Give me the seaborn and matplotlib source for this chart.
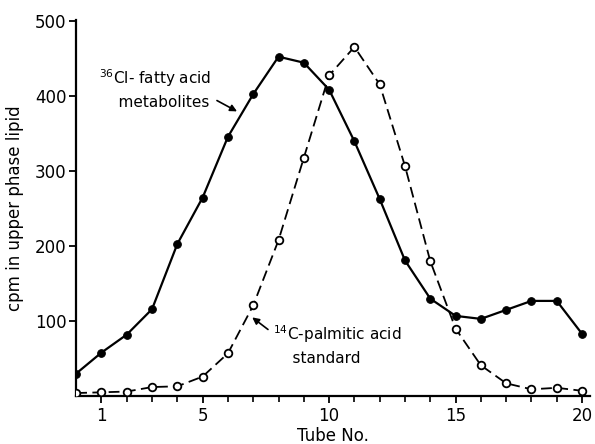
import numpy as np
import pandas as pd
import matplotlib
matplotlib.use('Agg')
import matplotlib.pyplot as plt
import seaborn as sns

# tube numbers and counts
tubes = list(range(0, 21))
cl36_metabolites = [30, 58, 82, 116, 203, 265, 346, 403, 453, 445, 409,
                    340, 263, 181, 130, 107, 103, 115, 127, 127, 83]
c14_palmitic = [4, 5, 6, 12, 13, 26, 57, 121, 208, 318, 428,
                466, 416, 307, 180, 90, 41, 17, 9, 11, 7]

x_major = [1, 5, 10, 15, 20]
y_major = [100, 200, 300, 400, 500]

df = pd.DataFrame({'tube': tubes, 'cl36': cl36_metabolites, 'c14': c14_palmitic})

sns.set_style('ticks')
plt.rcParams['font.family'] = ['DejaVu Sans']
plt.rcParams['text.color'] = 'black'
plt.rcParams['axes.labelcolor'] = 'black'

fig = plt.figure(figsize=(5.95, 4.44), dpi=100)
ax = fig.add_axes([0.128, 0.108, 0.863, 0.847])

sns.lineplot(data=df, x='tube', y='cl36', ax=ax, color='black', linewidth=1.6,
             marker='o', markersize=5.5, markerfacecolor='black',
             markeredgecolor='black', zorder=3)
sns.lineplot(data=df, x='tube', y='c14', ax=ax, color='black', linewidth=1.3,
             linestyle=(0, (6, 3)), marker='o', markersize=5.5,
             markerfacecolor='white', markeredgecolor='black',
             markeredgewidth=1.3, zorder=4)

ax.set_xlim(0, 20.3)
ax.set_ylim(0, 502)
ax.set_xticks(x_major)
ax.set_xticks(tubes[1:], minor=True)
ax.set_yticks(y_major)
ax.tick_params(axis='both', which='major', labelsize=12, width=1.3, length=5,
               color='black', labelcolor='black')
ax.tick_params(axis='x', which='major', pad=3)
ax.tick_params(axis='y', which='major', pad=2)
ax.tick_params(axis='x', which='minor', width=1.2, length=4, color='black')
for sp in ['top', 'right']:
    ax.spines[sp].set_visible(False)
for sp in ['left', 'bottom']:
    ax.spines[sp].set_linewidth(1.6)
    ax.spines[sp].set_color('black')

ax.set_xlabel('Tube No.', fontsize=12, labelpad=1)
ax.set_ylabel('cpm in upper phase lipid', fontsize=12, labelpad=8)

ax.annotate('$^{36}$Cl- fatty acid\n    metabolites', xy=(6.36, 380), xytext=(0.9, 410),
            fontsize=11, ha='left', va='center', linespacing=1.5,
            arrowprops=dict(arrowstyle='-|>', color='black', lw=1.2, mutation_scale=10,
                            shrinkA=2, shrinkB=0, relpos=(1.0, 0.3)))
ax.annotate('$^{14}$C-palmitic acid\n    standard', xy=(6.96, 105), xytext=(7.8, 69),
            fontsize=11, ha='left', va='center', linespacing=1.5,
            arrowprops=dict(arrowstyle='-|>', color='black', lw=1.2, mutation_scale=10,
                            shrinkA=2, shrinkB=0, relpos=(0.0, 0.75)))

fig.savefig('out.png', dpi=100)
